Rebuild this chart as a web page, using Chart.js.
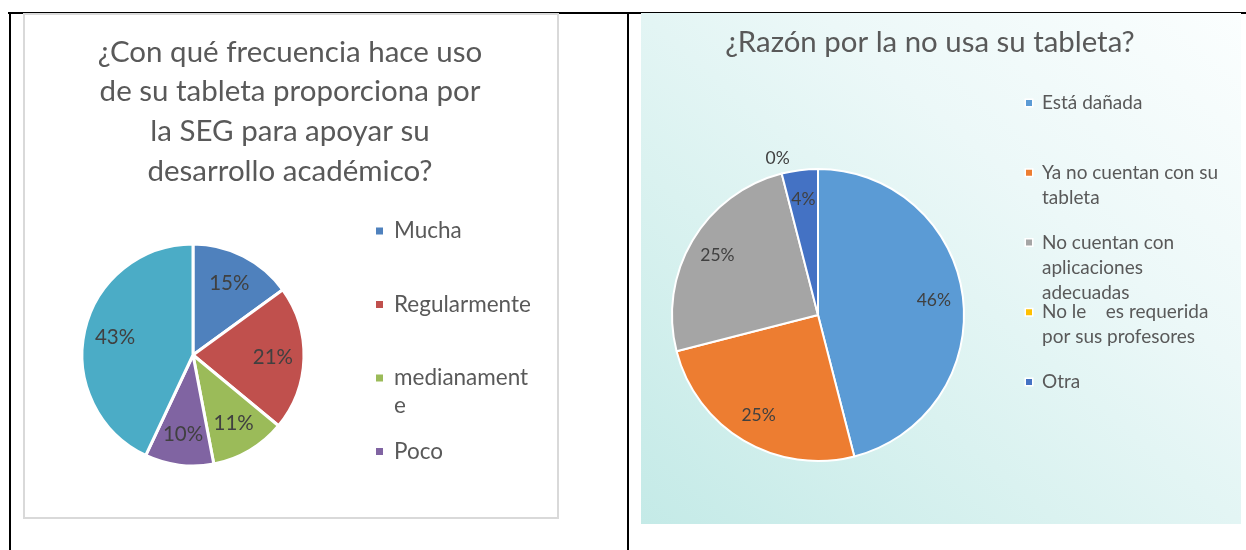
<!DOCTYPE html>
<html>
<head>
<meta charset="utf-8">
<script src="https://cdn.jsdelivr.net/npm/chart.js@4/dist/chart.umd.min.js"></script>
<style>
  body { margin: 0; width: 1246px; height: 550px; background: #fff; position: relative; overflow: hidden; }
  .rule { position: absolute; background: #000; }
  #boxUso { position: absolute; left: 23px; top: 13px; width: 536px; height: 506px; border: 2px solid #d9d9d9; box-sizing: border-box; background: #fff; }
  #boxRazon { position: absolute; left: 641px; top: 13px; width: 600px; height: 511px;
    background: linear-gradient(to top right, #c4eae7 0%, #daf2f0 35%, #ecf8f8 65%, #fbfefe 100%); }
  canvas { display: block; }
</style>
</head>
<body>
<div class="rule" style="left:8px;top:12px;width:1238px;height:2px"></div>
<div class="rule" style="left:9px;top:12px;width:2px;height:538px"></div>
<div class="rule" style="left:627px;top:12px;width:2px;height:538px"></div>

<div id="boxUso"><canvas id="chartUso" width="532" height="502"></canvas></div>
<div id="boxRazon"><canvas id="chartRazon" width="600" height="511"></canvas></div>

<script>
// Chart 1: frecuencia de uso
const usoTitle = ['¿Con qué frecuencia hace uso', 'de su tableta proporciona por', 'la SEG para apoyar su', 'desarrollo académico?'];
const usoCategories = ['Mucha', 'Regularmente', 'medianamente', 'Poco', 'Nada'];
const usoValues = [15, 21, 11, 10, 43];
const usoColors = ['#4F81BD', '#C0504D', '#9BBB59', '#8064A2', '#4BACC6'];

// Chart 2: razones de no uso (multi-line labels as arrays)
const razonTitle = ['¿Razón por la no usa su tableta?'];
const razonCategories = [
  'Está dañada',
  ['Ya no cuentan con su', 'tableta'],
  ['No cuentan con', 'aplicaciones', 'adecuadas'],
  ['No le    es requerida', 'por sus profesores'],
  'Otra'
];
const razonValues = [46, 25, 25, 0, 4];
const razonColors = ['#5B9BD5', '#ED7D31', '#A5A5A5', '#FFC000', '#4472C4'];

// wrap a label into lines no wider than maxW (breaks long words too)
function wrapText(ctx, text, maxW) {
  if (Array.isArray(text)) return text;
  const words = text.split(' ');
  const lines = [];
  let cur = '';
  words.forEach(function(w) {
    const test = cur ? cur + ' ' + w : w;
    if (ctx.measureText(test).width <= maxW) { cur = test; return; }
    if (cur) lines.push(cur);
    cur = w;
    while (ctx.measureText(cur).width > maxW) {
      let k = cur.length;
      while (k > 1 && ctx.measureText(cur.slice(0, k)).width > maxW) k--;
      lines.push(cur.slice(0, k));
      cur = cur.slice(k);
    }
  });
  if (cur) lines.push(cur);
  return lines;
}

// percentage labels on the slices
const pieLabels = {
  id: 'pieLabels',
  afterDatasetsDraw(chart, args, opts) {
    const ctx = chart.ctx;
    const data = chart.data.datasets[0].data;
    const total = data.reduce(function(a, b) { return a + b; }, 0);
    ctx.save();
    ctx.font = opts.font;
    ctx.fillStyle = opts.color;
    ctx.textAlign = 'center';
    ctx.textBaseline = 'middle';
    chart.getDatasetMeta(0).data.forEach(function(arc, i) {
      const mid = (arc.startAngle + arc.endAngle) / 2;
      const d = data[i] === 0 ? arc.outerRadius + opts.outside : arc.outerRadius * opts.ratio;
      ctx.fillText(Math.round(data[i] / total * 100) + '%', arc.x + Math.cos(mid) * d, arc.y + Math.sin(mid) * d);
    });
    ctx.restore();
  }
};

// title and side legend
const sideText = {
  id: 'sideText',
  afterDraw(chart, args, o) {
    const ctx = chart.ctx;
    ctx.save();
    ctx.fillStyle = o.color;
    ctx.textBaseline = 'middle';
    ctx.textAlign = 'center';
    ctx.font = o.titleFont;
    o.title.forEach(function(line, i) {
      ctx.fillText(line, o.titleX, o.titleY + i * o.titleLine);
    });

    ctx.textAlign = 'left';
    ctx.font = o.legendFont;
    const colors = chart.data.datasets[0].backgroundColor;
    chart.data.labels.slice(0, o.count).forEach(function(label, i) {
      const y = o.legendY + i * o.legendStep;
      if (o.boxFrame) {
        ctx.fillStyle = '#ffffff';
        ctx.fillRect(o.boxX - 1.5, y - o.boxSize / 2 - 1.5, o.boxSize + 3, o.boxSize + 3);
      }
      ctx.fillStyle = colors[i];
      ctx.fillRect(o.boxX, y - o.boxSize / 2, o.boxSize, o.boxSize);
      ctx.fillStyle = o.color;
      wrapText(ctx, label, o.maxWidth).forEach(function(line, j) {
        ctx.fillText(line, o.textX, y + j * o.lineHeight);
      });
    });
    ctx.restore();
  }
};

new Chart(document.getElementById('chartUso'), {
  type: 'pie',
  data: {
    labels: usoCategories,
    datasets: [{
      data: usoValues,
      backgroundColor: usoColors,
      borderColor: '#ffffff',
      borderWidth: 3
    }]
  },
  options: {
    responsive: false,
    animation: false,
    radius: 111,
    layout: { padding: { left: 38, right: 234, top: 210, bottom: 32 } },
    plugins: {
      legend: { display: false },
      title: { display: false },
      tooltip: { enabled: false },
      pieLabels: { font: '20.5px Lato, "Noto Sans", sans-serif', color: '#404040', ratio: 0.72, outside: 16 },
      sideText: {
        color: '#595959',
        title: usoTitle, titleFont: '29.5px Lato, "Noto Sans", sans-serif',
        titleX: 265, titleY: 37, titleLine: 39.7,
        legendFont: '22.5px Lato, "Noto Sans", sans-serif',
        count: 4, boxX: 351, boxSize: 7, textX: 369,
        legendY: 216, legendStep: 73.5, lineHeight: 28, maxWidth: 139
      }
    }
  },
  plugins: [pieLabels, sideText]
});

new Chart(document.getElementById('chartRazon'), {
  type: 'pie',
  data: {
    labels: razonCategories,
    datasets: [{
      data: razonValues,
      backgroundColor: razonColors,
      borderColor: '#ffffff',
      borderWidth: 2
    }]
  },
  options: {
    responsive: false,
    animation: false,
    radius: 146,
    layout: { padding: { left: 27, right: 273, top: 152, bottom: 59 } },
    plugins: {
      legend: { display: false },
      title: { display: false },
      tooltip: { enabled: false },
      pieLabels: { font: '17.5px Lato, "Noto Sans", sans-serif', color: '#404040', ratio: 0.8, outside: 16 },
      sideText: {
        color: '#595959',
        title: razonTitle, titleFont: '29.4px Lato, "Noto Sans", sans-serif',
        titleX: 289, titleY: 30, titleLine: 36,
        legendFont: '19px Lato, "Noto Sans", sans-serif',
        count: 5, boxX: 385, boxSize: 6, boxFrame: true, textX: 401,
        legendY: 90, legendStep: 69.75, lineHeight: 25, maxWidth: 200
      }
    }
  },
  plugins: [pieLabels, sideText]
});
</script>
</body>
</html>
